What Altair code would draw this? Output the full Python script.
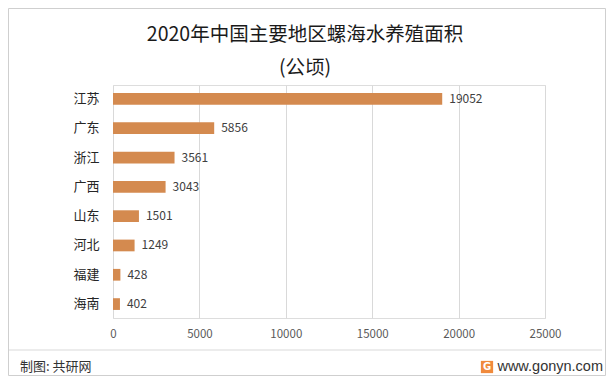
import altair as alt
import pandas as pd

regions = ["江苏", "广东", "浙江", "广西", "山东", "河北", "福建", "海南"]
areas = [19052, 5856, 3561, 3043, 1501, 1249, 428, 402]
title_lines = ["2020年中国主要地区螺海水养殖面积", "(公顷)"]
x_ticks = [0, 5000, 10000, 15000, 20000, 25000]

df = pd.DataFrame({"region": regions, "area": areas})

FONT = "Noto Sans CJK SC"
W, H = 432, 233

x = alt.X("area:Q", scale=alt.Scale(domain=[0, 25000], nice=False),
          axis=alt.Axis(values=x_ticks, title=None, domain=False, ticks=False,
                        grid=True, gridColor="#d9d9d9", gridWidth=1,
                        labelColor="#595959", labelFontSize=11.5, labelFont=FONT,
                        labelPadding=10, labelFlush=False, format="d"))
y = alt.Y("region:N", sort=regions,
          scale=alt.Scale(paddingInner=0.6, paddingOuter=0.275),
          axis=alt.Axis(title=None, domain=False, ticks=False, grid=False,
                        labelColor="#262626", labelFontSize=13, labelFont=FONT,
                        labelPadding=14))

bars = alt.Chart(df).mark_bar(color="#D48A4F").encode(x=x, y=y)
labels = alt.Chart(df).mark_text(align="left", baseline="middle", dx=7,
                                 fontSize=12, font=FONT, color="#404040").encode(
    x="area:Q", y=alt.Y("region:N", sort=regions), text="area:Q")

t1 = alt.Chart(pd.DataFrame({"t": [title_lines[0]]})).mark_text(
    align="center", baseline="middle", fontSize=19.5, font=FONT, color="#1a1a1a").encode(
    x=alt.value(192), y=alt.value(-50), text="t:N")
t2 = alt.Chart(pd.DataFrame({"t": [title_lines[1]]})).mark_text(
    align="center", baseline="middle", fontSize=19.5, font=FONT, color="#1a1a1a").encode(
    x=alt.value(192), y=alt.value(-17), text="t:N")

footer_line = alt.Chart(pd.DataFrame({"a": [0]})).mark_rule(color="#d9d9d9", strokeWidth=1).encode(
    x=alt.value(-104), x2=alt.value(489), y=alt.value(265))
footer_left = alt.Chart(pd.DataFrame({"t": ["制图: 共研网"]})).mark_text(
    align="left", baseline="middle", fontSize=13, font=FONT, color="#333333").encode(
    x=alt.value(-93), y=alt.value(282), text="t:N")
footer_right = alt.Chart(pd.DataFrame({"t": ["www.gonyn.com"]})).mark_text(
    align="right", baseline="middle", fontSize=14.5, font="Liberation Sans", color="#333333").encode(
    x=alt.value(490), y=alt.value(282), text="t:N")
logo = alt.Chart(pd.DataFrame({"a": [0]})).mark_square(size=150, color="#F08A3C", opacity=1).encode(
    x=alt.value(374), y=alt.value(282))
logo_g = alt.Chart(pd.DataFrame({"t": ["G"]})).mark_text(
    align="center", baseline="middle", fontSize=10, fontWeight="bold", font="DejaVu Sans", color="white").encode(
    x=alt.value(374), y=alt.value(282), text="t:N")
border = alt.Chart(pd.DataFrame({"a": [0]})).mark_rect(fill=None, stroke="#cfcfcf", strokeWidth=1).encode(
    x=alt.value(-104.5), x2=alt.value(492.5), y=alt.value(-76.5), y2=alt.value(290.5))

chart = alt.layer(bars, labels, t1, t2, footer_line, footer_left, footer_right, logo, logo_g, border).properties(
    width=W, height=H,
    autosize=alt.AutoSizeParams(type="none"),
    padding={"left": 105, "top": 77, "right": 61, "bottom": 58},
).configure_view(stroke=None).configure(background="white")

chart.save("out.html", embed_options={"renderer": "svg", "actions": False})
